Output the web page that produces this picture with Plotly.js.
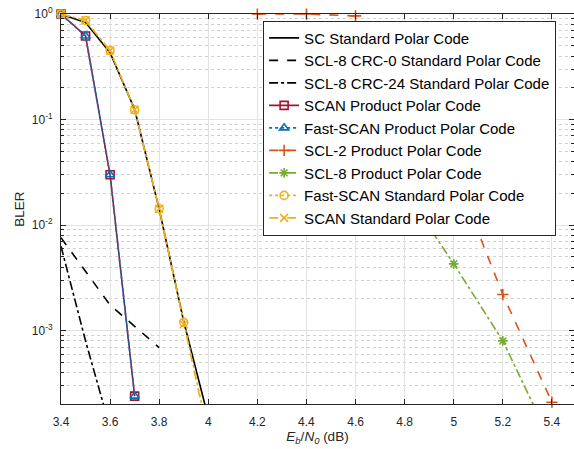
<!DOCTYPE html>
<html>
<head>
<meta charset="utf-8">
<script src="https://cdn.plot.ly/plotly-3.0.1.min.js"></script>
<style>html,body{margin:0;padding:0;background:#fff;}#plot{width:574px;height:449px;}</style>
</head>
<body>
<div id="plot"></div>
<script>
// Eb/N0 (dB) values
const snrStd = [3.4, 3.5, 3.6, 3.7, 3.8, 3.9, 4.0];
const snrCrc0 = [3.4, 3.5, 3.6, 3.7, 3.8];
const snrCrc24 = [3.4, 3.5, 3.6];
const snrProd = [3.4, 3.5, 3.6, 3.7];
const snrScl2Prod = [4.2, 4.4, 4.6, 4.8, 5.0, 5.2, 5.4];
const snrScl8Prod = [4.6, 4.8, 5.0, 5.2, 5.4];

// BLER values
const blerSC = [1, 0.83, 0.43, 0.125, 0.0142, 0.00122, 0.00015];
const blerScl8Crc0 = [0.0076, 0.0036, 0.00175, 0.0011, 0.00069];
const blerScl8Crc24 = [0.0063, 0.0008, 0.00012];
const blerScanProd = [1, 0.62, 0.030, 0.00024];
const blerFastScanProd = [1, 0.62, 0.030, 0.00024];
const blerScl2Prod = [1, 1, 0.96, 0.4, 0.033, 0.0022, 0.00021];
const blerScl8Prod = [0.3, 0.021, 0.0043, 0.0008, 0.000085];
const blerFastScanStd = [1, 0.87, 0.45, 0.124, 0.0143, 0.0012, 0.000105];
const blerScanStd = [1, 0.87, 0.45, 0.124, 0.0143, 0.00115, 0.0001];

const names = [
  'SC Standard Polar Code',
  'SCL-8 CRC-0 Standard Polar Code',
  'SCL-8 CRC-24 Standard Polar Code',
  'SCAN Product Polar Code',
  'Fast-SCAN Product Polar Code',
  'SCL-2 Product Polar Code',
  'SCL-8 Product Polar Code',
  'Fast-SCAN Standard Polar Code',
  'SCAN Standard Polar Code'
];

const xTicks = [3.4, 3.6, 3.8, 4, 4.2, 4.4, 4.6, 4.8, 5, 5.2, 5.4];
const xTickText = ['3.4', '3.6', '3.8', '4', '4.2', '4.4', '4.6', '4.8', '5', '5.2', '5.4'];
const yTicks = [1e-3, 1e-2, 1e-1, 1];
const yTickText = ['10<sup>-3</sup>', '10<sup>-2</sup>', '10<sup>-1</sup>', '10<sup>0</sup>'];

const yMinor = [];
for (let e = -4; e < 0; e++) {
  for (let m = 2; m <= 9; m++) yMinor.push(m * Math.pow(10, e));
}

const C_RED = '#A2142F', C_BLUE = '#0072BD', C_ORANGE = '#D95319', C_GREEN = '#77AC30', C_YELLOW = '#EDB120';
const LW = 1.6;

function tr(x, y, name, color, dash, symbol) {
  const t = {
    x: x, y: y, name: name, type: 'scatter',
    mode: symbol ? 'lines+markers' : 'lines',
    line: {color: color, width: LW, dash: dash},
    cliponaxis: false
  };
  if (symbol) t.marker = {symbol: symbol, size: 8, color: color, line: {color: color, width: 1.6}};
  return t;
}

const data = [
  tr(snrStd, blerSC, names[0], '#000000', 'solid', null),
  tr(snrCrc0, blerScl8Crc0, names[1], '#000000', 'dash', null),
  tr(snrCrc24, blerScl8Crc24, names[2], '#000000', 'dashdot', null),
  tr(snrProd, blerScanProd, names[3], C_RED, 'solid', 'square-open'),
  tr(snrProd, blerFastScanProd, names[4], C_BLUE, 'dot', 'triangle-up-open'),
  tr(snrScl2Prod, blerScl2Prod, names[5], C_ORANGE, 'dash', 'cross-thin-open'),
  tr(snrScl8Prod, blerScl8Prod, names[6], C_GREEN, 'dashdot', 'asterisk-open'),
  tr(snrStd, blerFastScanStd, names[7], C_YELLOW, 'dot', 'circle-open'),
  tr(snrStd, blerScanStd, names[8], C_YELLOW, 'dash', 'x-thin-open')
];

const axisCol = '#262626';
const layout = {
  width: 574, height: 449,
  margin: {l: 61, r: 0, t: 14, b: 45, pad: 0},
  paper_bgcolor: '#fff', plot_bgcolor: '#fff',
  font: {family: 'Liberation Sans, Arial, Helvetica, sans-serif', size: 12, color: axisCol},
  showlegend: true,
  legend: {
    x: 0.394, y: 0.983, xanchor: 'left', yanchor: 'top',
    bgcolor: '#ffffff', bordercolor: axisCol, borderwidth: 1,
    font: {size: 15, color: '#000'}, tracegroupgap: 0
  },
  xaxis: {
    type: 'linear', range: [3.4, 5.49],
    tickmode: 'array', tickvals: xTicks, ticktext: xTickText,
    showgrid: true, gridcolor: '#e3e3e3', gridwidth: 1,
    zeroline: false, showline: true, linecolor: axisCol, linewidth: 1, mirror: 'allticks',
    ticks: 'inside', ticklen: 5, tickcolor: axisCol, ticklabelstandoff: 7,
    tickfont: {size: 12, color: axisCol},
    title: {text: '<i>E</i><sub><i>b</i></sub>/<i>N</i><sub><i>0</i></sub> (dB)', font: {size: 13.5, color: axisCol}, standoff: 3}
  },
  yaxis: {
    type: 'log', range: [Math.log10(2.02e-4), 0.0005],
    tickmode: 'array', tickvals: yTicks, ticktext: yTickText,
    showgrid: true, gridcolor: '#e3e3e3', gridwidth: 1,
    zeroline: false, showline: true, linecolor: axisCol, linewidth: 1, mirror: 'allticks',
    ticks: 'inside', ticklen: 5, tickcolor: axisCol, ticklabelstandoff: 5,
    tickfont: {size: 12, color: axisCol},
    minor: {tickmode: 'array', tickvals: yMinor, showgrid: true, gridcolor: '#d0d0d0', griddash: 'dot', gridwidth: 1, ticks: 'inside', ticklen: 3, tickcolor: axisCol},
    title: {text: 'BLER', font: {size: 13.5, color: axisCol}, standoff: 4}
  }
};

Plotly.newPlot('plot', data, layout, {staticPlot: true, displayModeBar: false});
</script>
</body>
</html>
